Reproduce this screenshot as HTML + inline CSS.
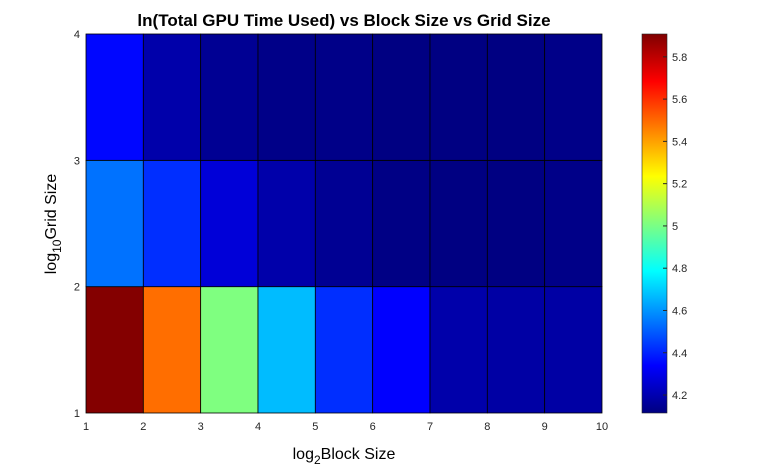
<!DOCTYPE html>
<html><head><meta charset="utf-8"><style>
body{margin:0;background:#fff;}
svg text{font-family:"Liberation Sans",Arial,sans-serif;}
</style></head><body>
<svg id="c" width="758" height="471" xmlns="http://www.w3.org/2000/svg">
<defs>
<linearGradient id="jet" x1="0" y1="1" x2="0" y2="0">
<stop offset="0" stop-color="#000080"/><stop offset="0.125" stop-color="#0000ff"/>
<stop offset="0.375" stop-color="#00ffff"/><stop offset="0.625" stop-color="#ffff00"/>
<stop offset="0.875" stop-color="#ff0000"/><stop offset="1" stop-color="#800000"/>
</linearGradient>
</defs>
<rect x="0" y="0" width="758" height="471" fill="#fff"/>
<g id="cells"></g>
<g id="axes"></g>
<text x="344" y="26" font-size="17" font-weight="bold" text-anchor="middle">ln(Total GPU Time Used) vs Block Size vs Grid Size</text>
<text x="344" y="459" font-size="16" text-anchor="middle">log<tspan font-size="12" dy="5">2</tspan><tspan dy="-5">Block Size</tspan></text>
<text transform="translate(56,224) rotate(-90)" font-size="16" text-anchor="middle">log<tspan font-size="12" dy="5">10</tspan><tspan dy="-5">Grid Size</tspan></text>
<rect x="642" y="34" width="25" height="379" fill="url(#jet)" stroke="#262626" stroke-width="0.6"/>
<g id="cb"></g>
</svg>
<script>
const xTicks=[1,2,3,4,5,6,7,8,9,10];
const yTicks=[1,2,3,4];
const cbTicks=[4.2,4.4,4.6,4.8,5,5.2,5.4,5.6,5.8];
const row1=[5.9,5.49,5.01,4.67,4.42,4.34,4.19,4.18,4.18];
const row2=[4.54,4.42,4.27,4.19,4.15,4.125,4.12,4.12,4.13];
const row3=[4.35,4.19,4.15,4.13,4.13,4.12,4.12,4.12,4.13];
const rows=[row1,row2,row3];
const cMin=4.115,cMax=5.908;
const L=86,R=602,T=34,B=413;
const sx=v=>L+(v-1)/9*(R-L);
const sy=v=>B-(v-1)/3*(B-T);
const cy=v=>B-(v-cMin)/(cMax-cMin)*(B-T);
const NS="http://www.w3.org/2000/svg";
function jet(v){let t=(v-cMin)/(cMax-cMin);t=Math.max(0,Math.min(1,t));
const f=x=>Math.round(255*Math.max(0,Math.min(1,1.5-Math.abs(x))));
return `rgb(${f(4*t-3)},${f(4*t-2)},${f(4*t-1)})`;}
const cells=document.getElementById('cells');
rows.forEach((r,i)=>r.forEach((v,j)=>{const e=document.createElementNS(NS,'rect');
e.setAttribute('x',sx(j+1));e.setAttribute('y',sy(i+2));
e.setAttribute('width',sx(j+2)-sx(j+1));e.setAttribute('height',sy(i+1)-sy(i+2));
e.setAttribute('fill',jet(v));e.setAttribute('stroke','#000');e.setAttribute('stroke-width','0.8');


cells.appendChild(e);}));
const ax=document.getElementById('axes');
xTicks.forEach(v=>{const t=document.createElementNS(NS,'text');t.setAttribute('x',sx(v));t.setAttribute('y',B+17);
t.setAttribute('font-size','11');t.setAttribute('text-anchor','middle');t.setAttribute('fill','#262626');t.textContent=v;


ax.appendChild(t);});
yTicks.forEach(v=>{const t=document.createElementNS(NS,'text');t.setAttribute('x',L-6);t.setAttribute('y',sy(v)+4);
t.setAttribute('font-size','11');t.setAttribute('text-anchor','end');t.setAttribute('fill','#262626');t.textContent=v;


ax.appendChild(t);});
const cb=document.getElementById('cb');
cbTicks.forEach(v=>{const l=document.createElementNS(NS,'line');l.setAttribute('x1',667);l.setAttribute('x2',663);
l.setAttribute('y1',cy(v));l.setAttribute('y2',cy(v));l.setAttribute('stroke','#262626');


cb.appendChild(l);
const t=document.createElementNS(NS,'text');t.setAttribute('x',672);t.setAttribute('y',cy(v)+4);
t.setAttribute('font-size','11');t.setAttribute('fill','#262626');t.textContent=v;


cb.appendChild(t);});
</script>
</body></html>
